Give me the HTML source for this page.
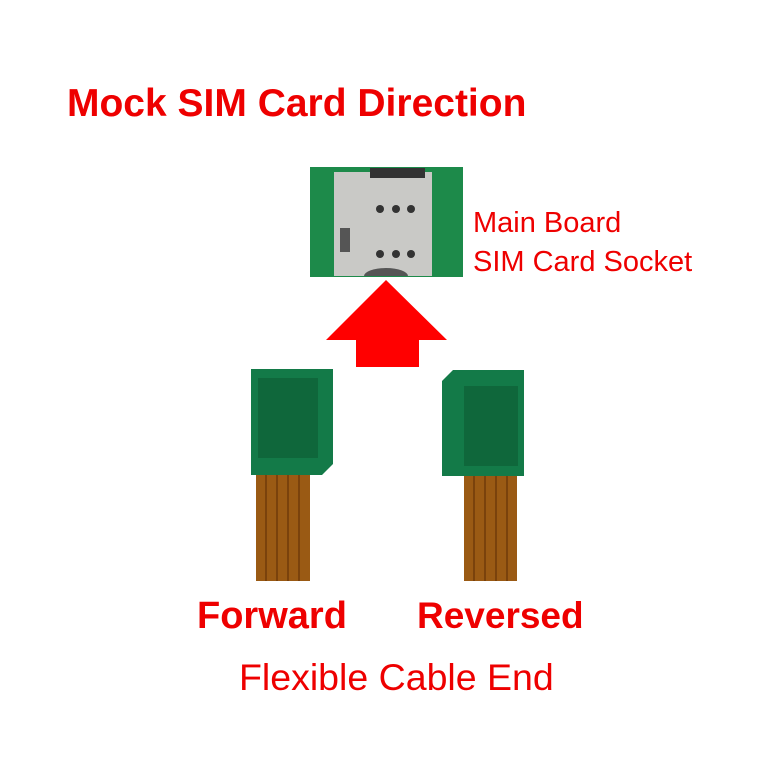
<!DOCTYPE html>
<html><head><style>
body{margin:0;width:768px;height:768px;background:#fff;position:relative;overflow:hidden;font-family:"Liberation Sans",sans-serif;color:#e00}
.t{position:absolute;white-space:nowrap;line-height:1}
</style></head><body>
<div class="t" style="left:67px;top:84px;font-size:39px;font-weight:bold;">Mock SIM Card Direction</div>
<div class="t" style="left:473px;top:209px;font-size:29px;">Main Board</div>
<div class="t" style="left:473px;top:248px;font-size:29px;">SIM Card Socket</div>
<div class="t" style="left:197px;top:597px;font-size:38px;font-weight:bold;">Forward</div>
<div class="t" style="left:417px;top:597px;font-size:37px;font-weight:bold;">Reversed</div>
<div class="t" style="left:239px;top:659px;font-size:37.5px;">Flexible Cable End</div>
<svg width="768" height="768" style="position:absolute;left:0;top:0">
<rect x="310" y="167" width="153" height="110" fill="#1d8a4a"/>
<rect x="334" y="172" width="98" height="104" fill="#c9c9c6"/>
<rect x="370" y="168" width="55" height="10" fill="#333"/>
<g fill="#333"><circle cx="380" cy="209" r="4"/><circle cx="396" cy="209" r="4"/><circle cx="411" cy="209" r="4"/><circle cx="380" cy="254" r="4"/><circle cx="396" cy="254" r="4"/><circle cx="411" cy="254" r="4"/></g>
<rect x="340" y="228" width="10" height="24" fill="#555"/>
<path d="M364 276 A22 8 0 0 1 408 276Z" fill="#555"/>
<polygon points="386,280 447,340 419,340 419,367 356,367 356,340 326,340" fill="#f00"/>
<polygon points="251,369 333,369 333,464 322,475 251,475" fill="#137a48"/>
<rect x="258" y="378" width="60" height="80" fill="#0d5a33" opacity=".6"/>
<rect x="256" y="475" width="54" height="106" fill="#9a5a14"/>
<polygon points="453,370 524,370 524,476 442,476 442,381" fill="#137a48"/>
<rect x="464" y="386" width="54" height="80" fill="#0d5a33" opacity=".6"/>
<rect x="464" y="476" width="53" height="105" fill="#9a5a14"/>
<g stroke="#7a420c" stroke-width="2"><line x1="266" y1="475" x2="266" y2="581"/><line x1="277" y1="475" x2="277" y2="581"/><line x1="288" y1="475" x2="288" y2="581"/><line x1="299" y1="475" x2="299" y2="581"/><line x1="474" y1="476" x2="474" y2="581"/><line x1="485" y1="476" x2="485" y2="581"/><line x1="496" y1="476" x2="496" y2="581"/><line x1="507" y1="476" x2="507" y2="581"/></g>
</svg>
</body></html>
